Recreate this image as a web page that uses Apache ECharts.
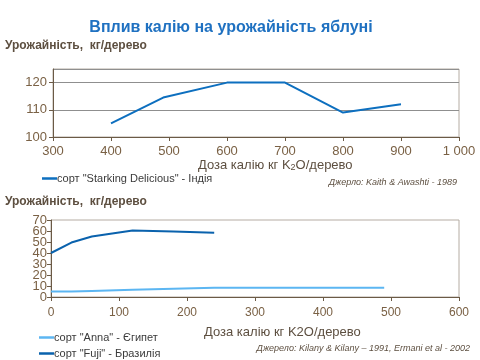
<!DOCTYPE html>
<html><head><meta charset="utf-8">
<script src="https://cdn.jsdelivr.net/npm/echarts@6/dist/echarts.min.js"></script>
<style>html,body{margin:0;padding:0;background:#fff}#c{width:480px;height:360px}</style>
</head><body><div id="c"></div>
<script>
// Top chart: Starking Delicious (India)
const starkingDose = [400, 490, 600, 700, 800, 900];
const starkingYield = [105, 114.5, 120, 120, 109, 112];
// Bottom chart: Anna (Egypt), Fuji (Brazil)
const annaDose = [0, 30, 60, 120, 240, 490];
const annaYield = [5, 5, 5.5, 6.5, 8.5, 8.5];
const fujiDose = [0, 30, 60, 120, 180, 240];
const fujiYield = [40, 49.5, 55, 60.5, 59.5, 58.5];

const pair = (xs, ys) => xs.map((x, i) => [x, ys[i]]);
const FONT = '"Liberation Sans", Arial, sans-serif';
const tickCol = '#7a6145';
const axisCol = '#6b5a46';
const borderCol = '#b5aca3';
const textCol = '#5d4f40';

const chart = echarts.init(document.getElementById('c'), null, {renderer: 'canvas'});
const axisLabel = {color: tickCol, fontFamily: FONT, fontSize: 12, hideOverlap: false};
const legendText = {color: '#3a3a3a', fontSize: 11, fontFamily: FONT, padding: [0, 0, 0, -5]};
const bottomY = (showEven, visibleLine) => ({
  gridIndex: 1, type: 'value', min: 0, max: 70, interval: 10, position: 'left', offset: 0,
  axisLine: {show: visibleLine, lineStyle: {color: axisCol}},
  axisTick: {show: visibleLine, length: 4, lineStyle: {color: axisCol}},
  splitLine: {show: false},
  axisLabel: Object.assign({}, axisLabel, {fontSize: 13, margin: 4, showMinLabel: true, showMaxLabel: true,
    formatter: v => ((Math.round(v / 10) % 2 === 0) === showEven) ? String(v) : ''})
});
chart.setOption({
  animation: false,
  textStyle: {fontFamily: FONT},
  title: {
    text: 'Вплив калію на урожайність яблуні',
    left: 226, top: 15, textAlign: 'center',
    textStyle: {color: '#1f71c1', fontSize: 16, fontWeight: 'bold', fontFamily: FONT}
  },
  grid: [
    {left: 53, top: 69, width: 406, height: 68, show: true, borderColor: borderCol, borderWidth: 1, backgroundColor: 'transparent'},
    {left: 51, top: 220, width: 408, height: 77, show: true, borderColor: borderCol, borderWidth: 1, backgroundColor: 'transparent'}
  ],
  xAxis: [
    {gridIndex: 0, type: 'value', min: 300, max: 1000, interval: 100,
     axisLine: {show: true, onZero: false, lineStyle: {color: axisCol}},
     axisTick: {show: true, length: 4, lineStyle: {color: axisCol}},
     splitLine: {show: false},
     axisLabel: Object.assign({}, axisLabel, {fontSize: 13, margin: 8, formatter: v => v >= 1000 ? '1 000' : String(v)})},
    {gridIndex: 1, type: 'value', min: 0, max: 600, interval: 100,
     axisLine: {show: true, onZero: false, lineStyle: {color: axisCol}},
     axisTick: {show: true, length: 4, lineStyle: {color: axisCol}},
     splitLine: {show: false},
     axisLabel: Object.assign({}, axisLabel, {margin: 10, showMinLabel: true, showMaxLabel: true})}
  ],
  yAxis: [
    {gridIndex: 0, type: 'value', min: 100, max: 125, interval: 10,
     axisLine: {show: true, lineStyle: {color: axisCol}},
     axisTick: {show: true, length: 4, lineStyle: {color: axisCol}},
     splitLine: {show: true, lineStyle: {color: '#8f8f8f', width: 1}},
     axisLabel: Object.assign({}, axisLabel, {fontSize: 13, margin: 6, showMaxLabel: false})},
    bottomY(true, true),
    bottomY(false, false)
  ],
  legend: [
    {left: 37, top: 168, icon: 'rect', itemWidth: 15, itemHeight: 2.5, itemGap: 0,
     textStyle: legendText, data: ['сорт "Starking Delicious" - Індія']},
    {left: 34, top: 327, icon: 'rect', itemWidth: 15, itemHeight: 2.5, itemGap: 0,
     textStyle: legendText, data: ['сорт "Anna" - Єгипет']},
    {left: 34, top: 343, icon: 'rect', itemWidth: 15, itemHeight: 2.5, itemGap: 0,
     textStyle: legendText, data: ['сорт "Fuji" - Бразилія']}
  ],
  graphic: [
    {type: 'text', left: 5, top: 40, style: {text: 'Урожайність,  кг/дерево', fill: textCol, font: 'bold 12px ' + FONT}},
    {type: 'text', left: 5, top: 196, style: {text: 'Урожайність,  кг/дерево', fill: textCol, font: 'bold 12px ' + FONT}},
    {type: 'text', left: 198, top: 159, style: {
      rich: {
        a: {fill: textCol, font: '13px ' + FONT},
        s: {fill: textCol, font: '9px ' + FONT, verticalAlign: 'bottom', padding: [5, 0, 0, 0]}
      },
      text: '{a|Доза калію кг K}{s|2}{a|O/дерево}'}},
    {type: 'text', left: 204, top: 326, style: {text: 'Доза калію кг K2O/дерево', fill: textCol, font: '13px ' + FONT}},
    {type: 'text', right: 23, top: 178, style: {text: 'Джерло: Kaith & Awashti - 1989', fill: textCol, font: 'italic 9px ' + FONT}},
    {type: 'text', right: 10, top: 344, style: {text: 'Джерело: Kilany & Kilany – 1991, Ermani et al - 2002', fill: textCol, font: 'italic 9px ' + FONT}}
  ],
  series: [
    {name: 'сорт "Starking Delicious" - Індія', type: 'line', xAxisIndex: 0, yAxisIndex: 0,
     data: pair(starkingDose, starkingYield), showSymbol: false, symbol: 'none',
     lineStyle: {color: '#0d6fbf', width: 2}, itemStyle: {color: '#0d6fbf'}},
    {name: 'сорт "Anna" - Єгипет', type: 'line', xAxisIndex: 1, yAxisIndex: 1,
     data: pair(annaDose, annaYield), showSymbol: false, symbol: 'none',
     lineStyle: {color: '#5cb6f2', width: 2}, itemStyle: {color: '#5cb6f2'}},
    {name: 'сорт "Fuji" - Бразилія', type: 'line', xAxisIndex: 1, yAxisIndex: 1,
     data: pair(fujiDose, fujiYield), showSymbol: false, symbol: 'none',
     lineStyle: {color: '#0a62ad', width: 2}, itemStyle: {color: '#0a62ad'}}
  ]
});
</script></body></html>
